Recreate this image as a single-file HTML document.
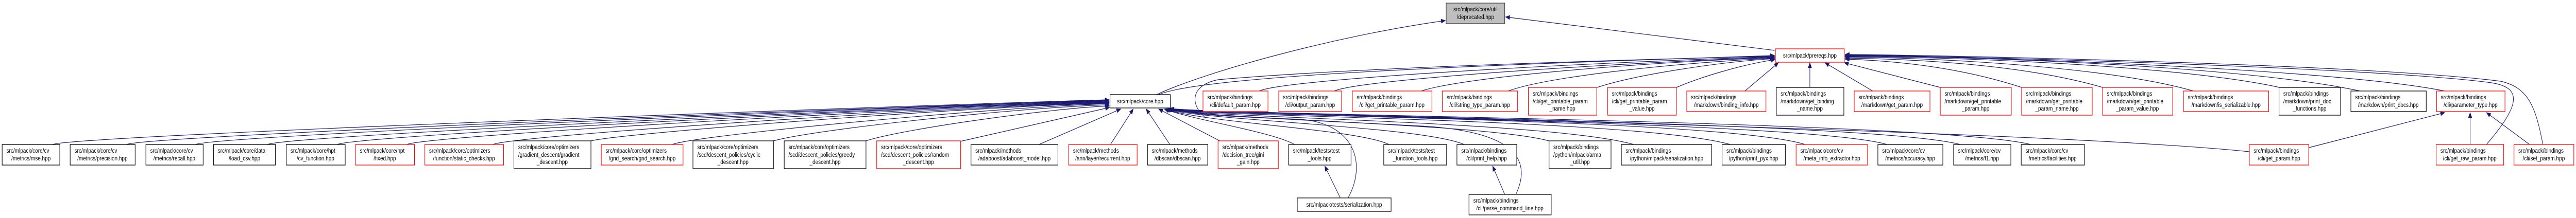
<!DOCTYPE html>
<html><head><meta charset="utf-8"><style>
html,body{margin:0;padding:0;background:#fff;width:100%;height:424px;overflow:hidden;}
svg{display:block;width:100vw;height:424px;}
text{font-family:"Liberation Sans",Arial,sans-serif;font-size:12px;fill:#000;}
.b{fill:#fff;stroke:#000;stroke-width:1.3;}
.r{fill:#fff;stroke:#ff0000;stroke-width:1.3;}
.g{fill:#bfbfbf;stroke:#404040;stroke-width:1.3;}
.e{fill:none;stroke:#191970;stroke-width:1.2;}
.c{text-anchor:middle;}
</style></head><body>
<svg width="100%" height="424" viewBox="0 0 5985 424" preserveAspectRatio="none" xmlns="http://www.w3.org/2000/svg" overflow="hidden">
<defs><marker id="a" markerWidth="11" markerHeight="9" refX="10" refY="4.5" orient="auto" markerUnits="userSpaceOnUse"><path d="M0,0 L11,4.5 L0,9 z" fill="#191970"/></marker></defs>

<g class="edges">
<path class="e" marker-end="url(#a)" d="M122,281 C180,262 2300,200 2577,194"/>
<path class="e" marker-end="url(#a)" d="M294,281 C350,262 2300,201 2577,195"/>
<path class="e" marker-end="url(#a)" d="M454,281 C510,262 2300,201 2577,196"/>
<path class="e" marker-end="url(#a)" d="M621,281 C680,262 2300,202 2577,197"/>
<path class="e" marker-end="url(#a)" d="M783,281 C840,262 2300,202 2577,198"/>
<path class="e" marker-end="url(#a)" d="M945,281 C1000,262 2300,203 2577,199"/>
<path class="e" marker-end="url(#a)" d="M1145,281 C1200,262 2300,204 2577,200"/>
<path class="e" marker-end="url(#a)" d="M1373,274 C1450,258 2300,205 2577,201"/>
<path class="e" marker-end="url(#a)" d="M1562,281 C1620,262 2350,206 2577,202"/>
<path class="e" marker-end="url(#a)" d="M1797,274 C1900,250 2400,207 2577,204"/>
<path class="e" marker-end="url(#a)" d="M2012,274 C2100,250 2450,210 2578,206"/>
<path class="e" marker-end="url(#a)" d="M2231,275 L2578,209"/>
<path class="e" marker-end="url(#a)" d="M2414,281 L2604,212"/>
<path class="e" marker-end="url(#a)" d="M2580,281 L2633,212"/>
<path class="e" marker-end="url(#a)" d="M2718,281 L2663,212"/>
<path class="e" marker-end="url(#a)" d="M2834,274 L2692,212"/>
<path class="e" marker-end="url(#a)" d="M3008,281 C2950,255 2780,235 2705,212"/>
<path class="e" marker-end="url(#a)" d="M3227,281 C3150,250 2800,240 2708,212"/>
<path class="e" marker-end="url(#a)" d="M3402,281 C3300,245 2800,235 2710,212"/>
<path class="e" marker-end="url(#a)" d="M3599,274 C3450,240 2800,232 2712,212"/>
<path class="e" marker-end="url(#a)" d="M3796,281 C3600,235 2800,230 2713,212"/>
<path class="e" marker-end="url(#a)" d="M4020,281 C3800,230 2800,228 2714,212"/>
<path class="e" marker-end="url(#a)" d="M4194,281 C4000,230 2800,226 2715,212"/>
<path class="e" marker-end="url(#a)" d="M4384,281 C4200,235 2800,225 2716,212"/>
<path class="e" marker-end="url(#a)" d="M4554,281 C4350,235 2800,224 2716,211"/>
<path class="e" marker-end="url(#a)" d="M4718,281 C4500,235 2800,223 2717,211"/>
<path class="e" marker-end="url(#a)" d="M5226,295 C4700,250 2800,222 2718,211"/>
<path class="e" marker-end="url(#a)" d="M3114,385 L3078,323"/>
<path class="e" d="M3132,385 C3175,320 3150,240 3020,232 C2900,228 2760,225 2720,210"/>
<path class="e" marker-end="url(#a)" d="M3496,378 L3468,323"/>
<path class="e" d="M3522,378 C3560,310 3520,255 3300,245 C3000,232 2780,226 2719,210"/>
<path class="e" marker-end="url(#a)" d="M2687,184 C2800,140 3100,70 3358,40"/>
<path class="e" marker-end="url(#a)" d="M2692,184 C2800,145 3500,125 4123,108"/>
<path class="e" d="M2802,230 C2760,200 2770,165 2830,155 C3100,135 3600,120 4123,109"/>
<path class="e" marker-end="url(#a)" d="M2926,177 C2980,155 3600,125 4123,110"/>
<path class="e" marker-end="url(#a)" d="M3100,177 C3160,155 3700,125 4123,111"/>
<path class="e" marker-end="url(#a)" d="M3302,177 C3400,150 3800,122 4123,112"/>
<path class="e" marker-end="url(#a)" d="M3504,177 C3600,148 3900,122 4123,113"/>
<path class="e" marker-end="url(#a)" d="M3711,170 C3800,145 4000,120 4123,114"/>
<path class="e" marker-end="url(#a)" d="M3895,170 C3950,150 4050,125 4124,116"/>
<path class="e" marker-end="url(#a)" d="M4054,177 L4132,122"/>
<path class="e" marker-end="url(#a)" d="M4205,170 L4205,122"/>
<path class="e" marker-end="url(#a)" d="M4351,177 L4240,122"/>
<path class="e" marker-end="url(#a)" d="M4508,170 L4285,122"/>
<path class="e" marker-end="url(#a)" d="M4697,170 C4550,130 4400,118 4287,115"/>
<path class="e" marker-end="url(#a)" d="M4885,170 C4700,125 4450,115 4287,113"/>
<path class="e" marker-end="url(#a)" d="M5096,177 C4900,130 4500,112 4287,111"/>
<path class="e" marker-end="url(#a)" d="M5296,170 C5050,125 4500,110 4287,110"/>
<path class="e" marker-end="url(#a)" d="M5483,177 C5200,125 4500,108 4287,109"/>
<path class="e" marker-end="url(#a)" d="M5680,177 C5400,130 4500,108 4287,108"/>
<path class="e" marker-end="url(#a)" d="M5777,281 C5860,200 5860,168 5780,160 C5500,130 4500,108 4287,107"/>
<path class="e" marker-end="url(#a)" d="M5908,281 C5890,200 5870,170 5810,158 C5500,125 4500,107 4287,106"/>
<path class="e" marker-end="url(#a)" d="M4123,98 L3498,33"/>
<path class="e" marker-end="url(#a)" d="M5365,287 L5680,219"/>
<path class="e" marker-end="url(#a)" d="M5739,281 L5739,219"/>
<path class="e" marker-end="url(#a)" d="M5877,281 L5777,219"/>
</g>

<rect class="g" x="3360" y="6" width="136" height="40"/>
<text class="c" x="3428" y="22">src/mlpack/core/util</text>
<text class="c" x="3428" y="37">/deprecated.hpp</text>

<rect class="r" x="4125" y="95" width="160" height="26"/>
<text class="c" x="4205" y="112">src/mlpack/prereqs.hpp</text>

<rect class="b" x="2579" y="184" width="140" height="26"/>
<text class="c" x="2649" y="201">src/mlpack/core.hpp</text>

<rect class="r" x="2795" y="177" width="151" height="40"/>
<text x="2805" y="193">src/mlpack/bindings</text><text class="c" x="2870" y="208">/cli/default_param.hpp</text>
<rect class="r" x="2971" y="177" width="146" height="40"/>
<text x="2981" y="193">src/mlpack/bindings</text><text class="c" x="3044" y="208">/cli/output_param.hpp</text>
<rect class="r" x="3142" y="177" width="185" height="40"/>
<text x="3152" y="193">src/mlpack/bindings</text><text class="c" x="3234" y="208">/cli/get_printable_param.hpp</text>
<rect class="r" x="3351" y="177" width="175" height="40"/>
<text x="3361" y="193">src/mlpack/bindings</text><text class="c" x="3438" y="208">/cli/string_type_param.hpp</text>
<rect class="r" x="3551" y="170" width="159" height="54"/>
<text x="3561" y="186">src/mlpack/bindings</text><text x="3561" y="201">/cli/get_printable_param</text><text class="c" x="3630" y="215">_name.hpp</text>
<rect class="r" x="3735" y="170" width="160" height="54"/>
<text x="3745" y="186">src/mlpack/bindings</text><text x="3745" y="201">/cli/get_printable_param</text><text class="c" x="3815" y="215">_value.hpp</text>
<rect class="r" x="3919" y="177" width="184" height="40"/>
<text x="3929" y="193">src/mlpack/bindings</text><text class="c" x="4011" y="208">/markdown/binding_info.hpp</text>
<rect class="b" x="4127" y="170" width="157" height="54"/>
<text x="4137" y="186">src/mlpack/bindings</text><text x="4137" y="201">/markdown/get_binding</text><text class="c" x="4205" y="215">_name.hpp</text>
<rect class="r" x="4308" y="177" width="176" height="40"/>
<text x="4318" y="193">src/mlpack/bindings</text><text class="c" x="4396" y="208">/markdown/get_param.hpp</text>
<rect class="r" x="4508" y="170" width="165" height="54"/>
<text x="4518" y="186">src/mlpack/bindings</text><text x="4518" y="201">/markdown/get_printable</text><text class="c" x="4590" y="215">_param.hpp</text>
<rect class="r" x="4697" y="170" width="164" height="54"/>
<text x="4707" y="186">src/mlpack/bindings</text><text x="4707" y="201">/markdown/get_printable</text><text class="c" x="4779" y="215">_param_name.hpp</text>
<rect class="r" x="4885" y="170" width="163" height="54"/>
<text x="4895" y="186">src/mlpack/bindings</text><text x="4895" y="201">/markdown/get_printable</text><text class="c" x="4966" y="215">_param_value.hpp</text>
<rect class="r" x="5073" y="177" width="198" height="40"/>
<text x="5083" y="193">src/mlpack/bindings</text><text class="c" x="5172" y="208">/markdown/is_serializable.hpp</text>
<rect class="b" x="5295" y="170" width="143" height="54"/>
<text x="5305" y="186">src/mlpack/bindings</text><text x="5305" y="201">/markdown/print_doc</text><text class="c" x="5366" y="215">_functions.hpp</text>
<rect class="b" x="5462" y="177" width="175" height="40"/>
<text x="5472" y="193">src/mlpack/bindings</text><text class="c" x="5549" y="208">/markdown/print_docs.hpp</text>
<rect class="r" x="5661" y="177" width="159" height="40"/>
<text x="5671" y="193">src/mlpack/bindings</text><text class="c" x="5740" y="208">/cli/parameter_type.hpp</text>

<rect class="b" x="5" y="281" width="134" height="40"/>
<text x="15" y="297">src/mlpack/core/cv</text><text class="c" x="72" y="312">/metrics/mse.hpp</text>
<rect class="b" x="163" y="281" width="151" height="40"/>
<text x="173" y="297">src/mlpack/core/cv</text><text class="c" x="238" y="312">/metrics/precision.hpp</text>
<rect class="b" x="339" y="281" width="133" height="40"/>
<text x="349" y="297">src/mlpack/core/cv</text><text class="c" x="405" y="312">/metrics/recall.hpp</text>
<rect class="b" x="496" y="281" width="144" height="40"/>
<text x="506" y="297">src/mlpack/core/data</text><text class="c" x="568" y="312">/load_csv.hpp</text>
<rect class="b" x="665" y="281" width="137" height="40"/>
<text x="675" y="297">src/mlpack/core/hpt</text><text class="c" x="733" y="312">/cv_function.hpp</text>
<rect class="r" x="826" y="281" width="137" height="40"/>
<text x="836" y="297">src/mlpack/core/hpt</text><text class="c" x="894" y="312">/fixed.hpp</text>
<rect class="r" x="987" y="281" width="183" height="40"/>
<text x="997" y="297">src/mlpack/core/optimizers</text><text class="c" x="1078" y="312">/function/static_checks.hpp</text>
<rect class="b" x="1194" y="274" width="179" height="54"/>
<text x="1204" y="290">src/mlpack/core/optimizers</text><text x="1204" y="305">/gradient_descent/gradient</text><text class="c" x="1283" y="319">_descent.hpp</text>
<rect class="r" x="1397" y="281" width="190" height="40"/>
<text x="1407" y="297">src/mlpack/core/optimizers</text><text class="c" x="1492" y="312">/grid_search/grid_search.hpp</text>
<rect class="b" x="1610" y="274" width="187" height="54"/>
<text x="1620" y="290">src/mlpack/core/optimizers</text><text x="1620" y="305">/scd/descent_policies/cyclic</text><text class="c" x="1703" y="319">_descent.hpp</text>
<rect class="b" x="1822" y="274" width="190" height="54"/>
<text x="1832" y="290">src/mlpack/core/optimizers</text><text x="1832" y="305">/scd/descent_policies/greedy</text><text class="c" x="1917" y="319">_descent.hpp</text>
<rect class="r" x="2037" y="274" width="195" height="54"/>
<text x="2047" y="290">src/mlpack/core/optimizers</text><text x="2047" y="305">/scd/descent_policies/random</text><text class="c" x="2134" y="319">_descent.hpp</text>
<rect class="b" x="2256" y="281" width="202" height="40"/>
<text x="2266" y="297">src/mlpack/methods</text><text class="c" x="2357" y="312">/adaboost/adaboost_model.hpp</text>
<rect class="r" x="2483" y="281" width="159" height="40"/>
<text x="2493" y="297">src/mlpack/methods</text><text class="c" x="2562" y="312">/ann/layer/recurrent.hpp</text>
<rect class="b" x="2666" y="281" width="140" height="40"/>
<text x="2676" y="297">src/mlpack/methods</text><text class="c" x="2736" y="312">/dbscan/dbscan.hpp</text>
<rect class="r" x="2830" y="274" width="140" height="54"/>
<text x="2840" y="290">src/mlpack/methods</text><text x="2840" y="305">/decision_tree/gini</text><text class="c" x="2900" y="319">_gain.hpp</text>
<rect class="b" x="2994" y="281" width="145" height="40"/>
<text x="3004" y="297">src/mlpack/tests/test</text><text class="c" x="3066" y="312">_tools.hpp</text>
<rect class="b" x="3215" y="281" width="146" height="40"/>
<text x="3225" y="297">src/mlpack/tests/test</text><text class="c" x="3288" y="312">_function_tools.hpp</text>
<rect class="b" x="3385" y="281" width="139" height="40"/>
<text x="3395" y="297">src/mlpack/bindings</text><text class="c" x="3454" y="312">/cli/print_help.hpp</text>
<rect class="b" x="3599" y="274" width="144" height="54"/>
<text x="3609" y="290">src/mlpack/bindings</text><text x="3609" y="305">/python/mlpack/arma</text><text class="c" x="3671" y="319">_util.hpp</text>
<rect class="b" x="3767" y="281" width="210" height="40"/>
<text x="3777" y="297">src/mlpack/bindings</text><text class="c" x="3872" y="312">/python/mlpack/serialization.hpp</text>
<rect class="b" x="4001" y="281" width="147" height="40"/>
<text x="4011" y="297">src/mlpack/bindings</text><text class="c" x="4074" y="312">/python/print_pyx.hpp</text>
<rect class="r" x="4173" y="281" width="166" height="40"/>
<text x="4183" y="297">src/mlpack/core/cv</text><text class="c" x="4256" y="312">/meta_info_extractor.hpp</text>
<rect class="b" x="4363" y="281" width="151" height="40"/>
<text x="4373" y="297">src/mlpack/core/cv</text><text class="c" x="4438" y="312">/metrics/accuracy.hpp</text>
<rect class="b" x="4539" y="281" width="133" height="40"/>
<text x="4549" y="297">src/mlpack/core/cv</text><text class="c" x="4605" y="312">/metrics/f1.hpp</text>
<rect class="b" x="4696" y="281" width="147" height="40"/>
<text x="4706" y="297">src/mlpack/core/cv</text><text class="c" x="4769" y="312">/metrics/facilities.hpp</text>
<rect class="r" x="5226" y="281" width="138" height="40"/>
<text x="5236" y="297">src/mlpack/bindings</text><text class="c" x="5295" y="312">/cli/get_param.hpp</text>
<rect class="r" x="5660" y="281" width="157" height="40"/>
<text x="5670" y="297">src/mlpack/bindings</text><text class="c" x="5738" y="312">/cli/get_raw_param.hpp</text>
<rect class="r" x="5841" y="281" width="139" height="40"/>
<text x="5851" y="297">src/mlpack/bindings</text><text class="c" x="5910" y="312">/cli/set_param.hpp</text>

<rect class="b" x="3014" y="385" width="218" height="26"/>
<text class="c" x="3123" y="402">src/mlpack/tests/serialization.hpp</text>
<rect class="b" x="3413" y="378" width="191" height="40"/>
<text x="3423" y="394">src/mlpack/bindings</text><text class="c" x="3508" y="409">/cli/parse_command_line.hpp</text>
</svg>
</body></html>
